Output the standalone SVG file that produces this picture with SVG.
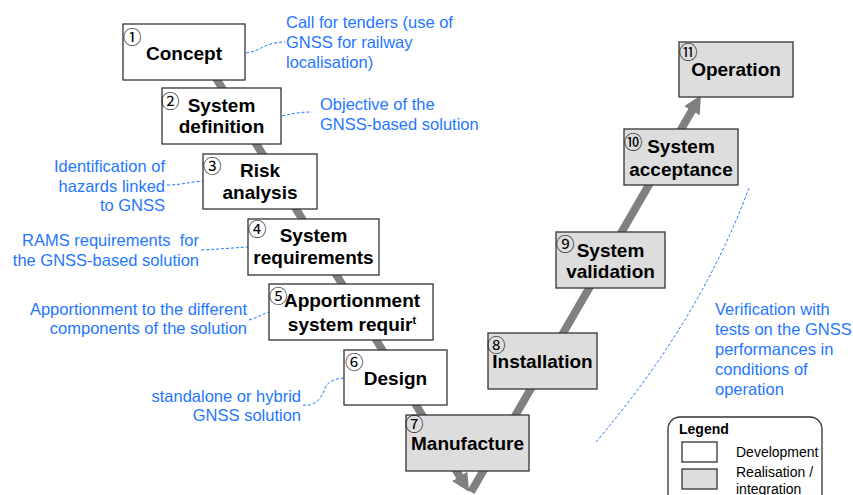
<svg xmlns="http://www.w3.org/2000/svg" width="853" height="495" viewBox="0 0 853 495">
<defs>
<style>
.dev{fill:#ffffff;stroke:#333333;stroke-width:1.3}
.real{fill:#dddddd;stroke:#333333;stroke-width:1.3}
.t{font-family:"Liberation Sans",Arial,sans-serif;font-weight:bold;font-size:19px;fill:#000;text-anchor:middle}
.n{font-family:"Noto Sans CJK JP","DejaVu Sans",sans-serif;font-size:18.5px;fill:#000}
.a{font-family:"Liberation Sans",Arial,sans-serif;font-size:16.5px;fill:#1f77ff}
.ar{text-anchor:end}
.d{fill:none;stroke:#1f77ff;stroke-width:1;stroke-dasharray:3,2}
.flow{fill:none;stroke:#808080;stroke-width:8}
.lg{font-family:"Liberation Sans",Arial,sans-serif;font-size:14px;fill:#000}
</style>
<marker id="head" markerUnits="userSpaceOnUse" markerWidth="18" markerHeight="18" viewBox="0 0 18 18" refX="6" refY="9" orient="auto">
<path d="M0,0 L18,9 L0,18 z" fill="#808080"/>
</marker>
</defs>

<g id="connectors">
<path class="flow" d="M200,52 L462.8,481.5" marker-end="url(#head)"/>
<path class="flow" d="M471,492 L694.9,105.6" marker-end="url(#head)"/>
<path class="d" d="M246,53 C262,51 262,43 285,42"/>
<path class="d" d="M282,116 C292,114 298,112 312,112"/>
<path class="d" d="M167,185 C180,185 190,182 203,181"/>
<path class="d" d="M201,250 C220,249 232,248 248,247"/>
<path class="d" d="M249,320 C257,318 262,314 269,312"/>
<path class="d" d="M303,405 C315,407 322,398 325,388 C328,381 335,379 344,378"/>
<path class="d" d="M596,442 Q700,320 749,188"/>
</g>

<g id="n1"><rect class="dev" x="123" y="24" width="122" height="56"/><text class="n" x="123" y="44">①</text><text class="t" x="184" y="60">Concept</text></g>
<g id="n2"><rect class="dev" x="162" y="88" width="119" height="56"/><text class="n" x="161" y="108">②</text><text class="t" x="221.5" y="112">System</text><text class="t" x="221.5" y="133">definition</text></g>
<g id="n3"><rect class="dev" x="203" y="154" width="114" height="55"/><text class="n" x="203" y="173">③</text><text class="t" x="260" y="177">Risk</text><text class="t" x="260" y="199">analysis</text></g>
<g id="n4"><rect class="dev" x="248" y="219" width="131" height="56"/><text class="n" x="248" y="236">④</text><text class="t" x="313.5" y="242">System</text><text class="t" x="313.5" y="264">requirements</text></g>
<g id="n5"><rect class="dev" x="269" y="284" width="164" height="56"/><text class="n" x="269" y="303">⑤</text><text class="t" x="352" y="307">Apportionment</text><text class="t" x="352" y="331">system requir<tspan font-size="11" dy="-7">t</tspan></text></g>
<g id="n6"><rect class="dev" x="344" y="350" width="103" height="55"/><text class="n" x="345" y="369">⑥</text><text class="t" x="395.5" y="385">Design</text></g>
<g id="n7"><rect class="real" x="406" y="415" width="123" height="56"/><text class="n" x="405" y="431">⑦</text><text class="t" x="467.5" y="450">Manufacture</text></g>
<g id="n8"><rect class="real" x="488" y="333" width="109" height="56"/><text class="n" x="487" y="352">⑧</text><text class="t" x="542.5" y="368">Installation</text></g>
<g id="n9"><rect class="real" x="556" y="232" width="109" height="56"/><text class="n" x="556" y="251">⑨</text><text class="t" x="610.5" y="257">System</text><text class="t" x="610.5" y="278">validation</text></g>
<g id="n10"><rect class="real" x="624" y="129" width="114" height="56"/><text class="n" x="624" y="149">⑩</text><text class="t" x="681" y="153">System</text><text class="t" x="681" y="176">acceptance</text></g>
<g id="n11"><rect class="real" x="679" y="42" width="114" height="55"/><text class="n" x="679" y="59">⑪</text><text class="t" x="736" y="76">Operation</text></g>

<g id="annotations">
<text class="a" x="286" y="28">Call for tenders (use of</text>
<text class="a" x="286" y="48">GNSS for railway</text>
<text class="a" x="286" y="68">localisation)</text>
<text class="a" x="320" y="110">Objective of the</text>
<text class="a" x="320" y="130">GNSS-based solution</text>
<text class="a ar" x="165" y="172">Identification of</text>
<text class="a ar" x="165" y="192">hazards linked</text>
<text class="a ar" x="165" y="211">to GNSS</text>
<text class="a ar" x="199" y="246" xml:space="preserve">RAMS requirements  for</text>
<text class="a ar" x="199" y="266">the GNSS-based solution</text>
<text class="a ar" x="247" y="315">Apportionment to the different</text>
<text class="a ar" x="247" y="334">components of the solution</text>
<text class="a ar" x="301" y="402">standalone or hybrid</text>
<text class="a ar" x="301" y="421">GNSS solution</text>
<text class="a" x="715" y="315">Verification with</text>
<text class="a" x="715" y="335">tests on the GNSS</text>
<text class="a" x="715" y="355">performances in</text>
<text class="a" x="715" y="375">conditions of</text>
<text class="a" x="715" y="395">operation</text>
</g>

<g id="legend">
<rect x="668" y="417" width="154" height="90" rx="12" ry="12" fill="#ffffff" stroke="#333333" stroke-width="1.3"/>
<text class="lg" x="679" y="434" font-weight="bold">Legend</text>
<rect class="dev" x="682" y="442" width="35" height="20"/>
<text class="lg" x="736" y="457">Development</text>
<rect class="real" x="682" y="469" width="35" height="20"/>
<text class="lg" x="736" y="477">Realisation /</text>
<text class="lg" x="736" y="494">integration</text>
</g>
</svg>
